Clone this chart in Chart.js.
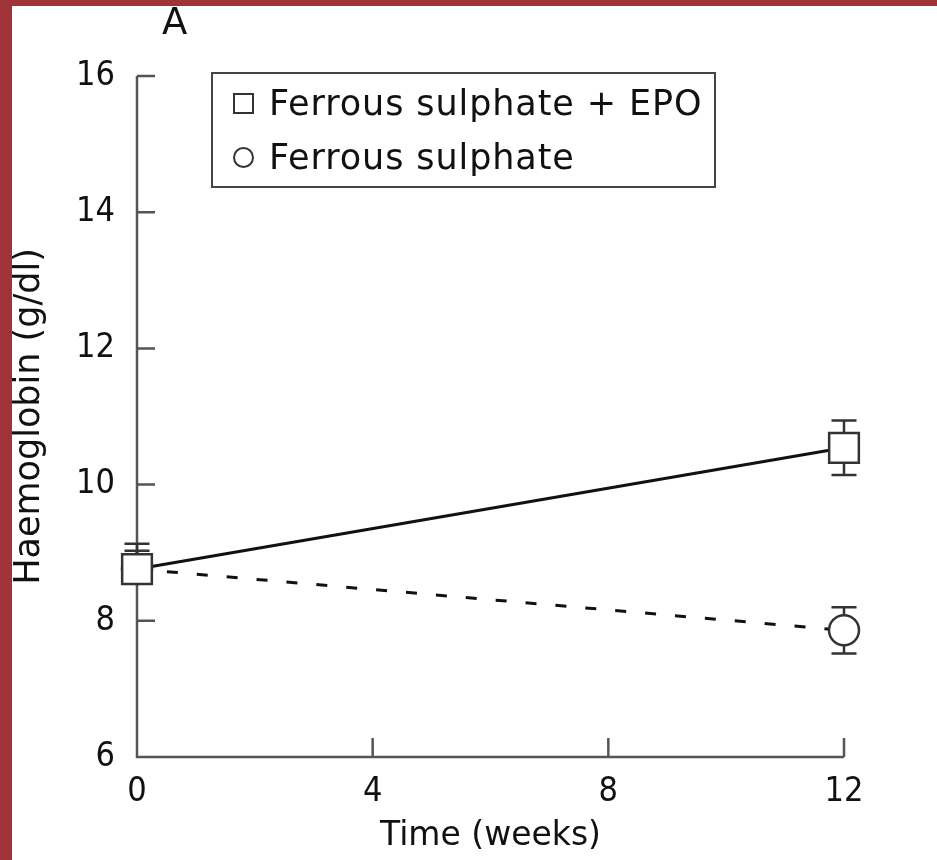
<!DOCTYPE html>
<html>
<head>
<meta charset="utf-8">
<script src="https://cdn.jsdelivr.net/npm/chart.js@4"></script>
<style>
  html, body { margin: 0; padding: 0; }
  body { width: 937px; height: 860px; background: #9f3338; position: relative; overflow: hidden; }
  #panel { position: absolute; left: 12px; top: 6px; width: 925px; height: 854px; background: #fff; }
  #panel canvas { position: absolute; left: 0; top: 0; }
  .tag { position: absolute; left: 150px; top: -6px; font: 37px 'DejaVu Sans'; color: #111; }
  .legend { position: absolute; left: 199px; top: 66px; width: 505px; height: 116px;
            border: 2px solid #444; box-sizing: border-box; font: 35px 'DejaVu Sans'; color: #111;
            letter-spacing: 0.9px; }
  .legend .row { position: absolute; left: 0; height: 40px; display: flex; align-items: center; white-space: nowrap; }
  .legend .mk { width: 17px; height: 17px; border: 2px solid #333; margin-left: 20px; margin-right: 15px; }
  .legend .mk.circle { border-radius: 50%; }
</style>
</head>
<body>
<div id="panel">
  <canvas id="chart" width="925" height="854"></canvas>
  <div class="tag">A</div>
  <div class="legend" id="legend"></div>
</div>
<script>
// data (Hb means, error bars up / down)
const weeks = [0, 12];
const seriesNames = ['Ferrous sulphate + EPO', 'Ferrous sulphate'];
const epoMean = [8.76, 10.54];
const epoErrUp = [0.37, 0.40];
const epoErrDown = [0.15, 0.40];
const fsMean = [8.76, 7.86];
const fsErrUp = [0.27, 0.34];
const fsErrDown = [0.15, 0.34];
const xTicks = [0, 4, 8, 12];
const yTicks = [6, 8, 10, 12, 14, 16];

const FONT = 'DejaVu Sans';
const INK = '#111';
const AXIS = '#555';

// html legend built from the series names
const legendEl = document.getElementById('legend');
seriesNames.forEach((name, i) => {
  const row = document.createElement('div');
  row.className = 'row';
  row.style.top = (i === 0 ? 9 : 63) + 'px';
  const mk = document.createElement('span');
  mk.className = 'mk' + (i === 1 ? ' circle' : '');
  const txt = document.createElement('span');
  txt.textContent = name;
  row.appendChild(mk);
  row.appendChild(txt);
  legendEl.appendChild(row);
});

// axes with inward ticks + error bars, drawn under the markers
const axesAndErrors = {
  id: 'axesAndErrors',
  beforeDatasetsDraw(chart) {
    const { ctx, scales: { x, y } } = chart;
    const x0 = x.getPixelForValue(xTicks[0]);
    const y0 = y.getPixelForValue(yTicks[0]);
    ctx.save();
    ctx.strokeStyle = AXIS;
    ctx.lineWidth = 2.5;
    ctx.lineCap = 'butt';
    ctx.beginPath();
    ctx.moveTo(x0, y.getPixelForValue(yTicks[yTicks.length - 1]));
    ctx.lineTo(x0, y0);
    ctx.lineTo(x.getPixelForValue(xTicks[xTicks.length - 1]), y0);
    yTicks.forEach(v => {
      const py = y.getPixelForValue(v);
      ctx.moveTo(x0, py);
      ctx.lineTo(x0 + 18, py);
    });
    xTicks.forEach(v => {
      const px = x.getPixelForValue(v);
      ctx.moveTo(px, y0);
      ctx.lineTo(px, y0 - 19);
    });
    ctx.stroke();

    // error bars
    ctx.strokeStyle = '#333';
    ctx.lineWidth = 2.5;
    const bars = (means, up, down) => {
      means.forEach((m, i) => {
        const px = x.getPixelForValue(weeks[i]);
        const top = y.getPixelForValue(m + up[i]);
        const bot = y.getPixelForValue(m - down[i]);
        ctx.beginPath();
        ctx.moveTo(px, top);
        ctx.lineTo(px, bot);
        ctx.moveTo(px - 12.5, top);
        ctx.lineTo(px + 12.5, top);
        ctx.moveTo(px - 12.5, bot);
        ctx.lineTo(px + 12.5, bot);
        ctx.stroke();
      });
    };
    bars(fsMean, fsErrUp, fsErrDown);
    bars(epoMean, epoErrUp, epoErrDown);
    ctx.restore();
  }
};

const toPoints = (means) => means.map((m, i) => ({ x: weeks[i], y: m }));

new Chart(document.getElementById('chart').getContext('2d'), {
  type: 'line',
  data: {
    datasets: [
      {
        label: seriesNames[0],
        data: toPoints(epoMean),
        borderColor: INK,
        borderWidth: 3,
        pointStyle: 'rect',
        pointRadius: 21,
        pointBackgroundColor: '#fff',
        pointBorderColor: '#333',
        pointBorderWidth: 2.5,
        clip: false
      },
      {
        label: seriesNames[1],
        data: toPoints(fsMean),
        borderColor: INK,
        borderWidth: 3,
        borderDash: [11, 19],
        pointStyle: 'circle',
        pointRadius: 15,
        pointBackgroundColor: '#fff',
        pointBorderColor: '#333',
        pointBorderWidth: 2.5,
        clip: false
      }
    ]
  },
  options: {
    responsive: false,
    animation: false,
    events: [],
    layout: { padding: { top: 70, right: 93, left: 0, bottom: 0 } },
    plugins: { legend: { display: false }, tooltip: { enabled: false } },
    scales: {
      x: {
        type: 'linear',
        min: 0,
        max: 12,
        afterBuildTicks: s => { s.ticks = xTicks.map(v => ({ value: v })); },
        afterFit: s => { s.height = 103; },
        grid: { display: false, drawTicks: false },
        border: { display: false },
        ticks: { color: INK, font: { family: 'DejaVu Sans Condensed', size: 34 }, padding: 15, maxRotation: 0 },
        title: {
          display: true,
          text: 'Time (weeks)',
          color: INK,
          font: { family: FONT, size: 33, lineHeight: 1 },
          padding: { top: 0, bottom: 7 }
        }
      },
      y: {
        type: 'linear',
        min: 6,
        max: 16,
        afterBuildTicks: s => { s.ticks = yTicks.map(v => ({ value: v })); },
        afterFit: s => { s.width = 125; },
        grid: { display: false, drawTicks: false },
        border: { display: false },
        ticks: { color: INK, font: { family: 'DejaVu Sans Condensed', size: 34 }, padding: 22 },
        title: {
          display: true,
          text: 'Haemoglobin (g/dl)',
          color: INK,
          font: { family: FONT, size: 35, lineHeight: 1 },
          padding: { top: 0, bottom: 0 }
        }
      }
    }
  },
  plugins: [axesAndErrors]
});
</script>
</body>
</html>
